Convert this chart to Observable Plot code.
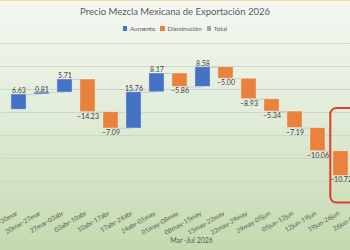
<!DOCTYPE html>
<html>
<head>
<meta charset="utf-8">
<script src="https://cdn.jsdelivr.net/npm/d3@7"></script>
<script src="https://cdn.jsdelivr.net/npm/@observablehq/plot@0.6"></script>
<style>
  html, body { margin: 0; padding: 0; }
  #chart {
    width: 350px; height: 250px; overflow: hidden; position: relative;
    background: linear-gradient(to bottom, #f5f8f2 0%, #e4eedc 40%, #c3daad 100%);
    font-family: Lato, "Open Sans", sans-serif; color: #595959;
    box-sizing: border-box; border-top: 1px solid #f3d9ad;
  }
  #title { height: 19px; line-height: 19px; text-align: center; font-size: 9.5px; color: #595959; padding-top: 1px; }
  #legend { height: 15px; display: flex; justify-content: center; align-items: center; font-size: 6.3px; color: #595959; gap: 5px; }
  #legend span.item { display: inline-flex; align-items: center; gap: 2.5px; }
  #legend span.sw { width: 4.5px; height: 4.5px; display: inline-block; }
  #plot svg { display: block; overflow: visible; max-width: none !important; }
</style>
</head>
<body>
<div id="chart">
  <div id="title"></div>
  <div id="legend"></div>
  <div id="plot"></div>
</div>
<script>
const titleText = "Precio Mezcla Mexicana de Exportación 2026";
const axisTitle = "Mar -Jul 2026";
const legendNames = ["Aumento", "Disminución", "Total"];
const legendColors = ["#4472C4", "#E8823D", "#A5A5A5"];
const categories = ["13mar-20mar","20mar-27mar","27mar-03abr","03abr-10abr","10abr-17abr","17abr-24abr","24abr-01may","01may-08may","08may-15may","15may-22may","22may-29may","29may-05jun","05jun-12jun","12jun-19jun","19jun-26jun","26jun-03jul"];
const changes = [6.63, 0.81, 5.71, -14.23, -7.09, 15.76, 8.17, -5.86, 8.58, -5.00, -8.93, -5.34, -7.19, -10.06, -10.72];
const startLevel = 1.2;
const gridValues = [-40, -30, -20, -10, 0, 10, 20, 30];
const highlightCategory = "19jun-26jun";
const highlightRange = [1.7, -39.4];

document.getElementById("title").textContent = titleText;
const leg = document.getElementById("legend");
legendNames.forEach((n, i) => {
  const it = document.createElement("span"); it.className = "item";
  const sw = document.createElement("span"); sw.className = "sw"; sw.style.background = legendColors[i];
  const tx = document.createElement("span"); tx.textContent = n;
  it.appendChild(sw); it.appendChild(tx); leg.appendChild(it);
});

let level = startLevel;
const bars = changes.map((v, i) => {
  const s = level; level += v;
  return {cat: categories[i], start: s, end: level, value: v, type: v >= 0 ? "Aumento" : "Disminución"};
});
const links = bars.slice(0, -1).map((b, i) => ({a: b.cat, b: bars[i + 1].cat, y: b.end}));

const fmt = d3.format(".2f");
const plot = Plot.plot({
  width: 382, height: 214,
  marginLeft: 1, marginRight: 1, marginTop: 7, marginBottom: 46,
  x: {domain: categories, padding: 0, axis: null},
  y: {domain: [-40, 30], axis: null},
  color: {domain: legendNames, range: legendColors},
  style: {background: "transparent", fontFamily: "Lato, 'Open Sans', sans-serif", maxWidth: "none"},
  marks: [
    Plot.ruleY(gridValues, {stroke: "#d2d2d2", strokeWidth: 1}),
    Plot.link(links, {x1: "a", x2: "b", y1: "y", y2: "y", stroke: "#c4c4c4", strokeWidth: 0.8}),
    Plot.barY(bars, {x: "cat", y1: "start", y2: "end", fill: "type", insetLeft: 3.9, insetRight: 3.9, stroke: "#ffffff", strokeOpacity: 0.5, strokeWidth: 0.8}),
    Plot.text(bars.filter(d => d.value >= 0), {x: "cat", y: "end", text: d => fmt(d.value), lineAnchor: "bottom", dy: -1, fontSize: 7, fill: "#404040"}),
    Plot.text(bars.filter(d => d.value < 0), {x: "cat", y: "end", text: d => fmt(d.value), lineAnchor: "top", dy: 1.5, fontSize: 7, fill: "#404040"}),
    Plot.barY([{cat: highlightCategory, y1: highlightRange[0], y2: highlightRange[1]}], {x: "cat", y1: "y1", y2: "y2", fill: "none", stroke: "#E5392B", strokeWidth: 2, rx: 6, insetLeft: 1.3, insetRight: -25}),
    Plot.text(categories, {x: d => d, text: d => d, frameAnchor: "bottom", rotate: -30, textAnchor: "end", dy: 10, dx: -1, fontSize: 6.5, fill: "#595959"}),
    Plot.text([axisTitle], {text: d => d, frameAnchor: "bottom", dy: 38, fontSize: 7, fill: "#595959"})
  ]
});
document.getElementById("plot").appendChild(plot);
</script>
</body>
</html>
